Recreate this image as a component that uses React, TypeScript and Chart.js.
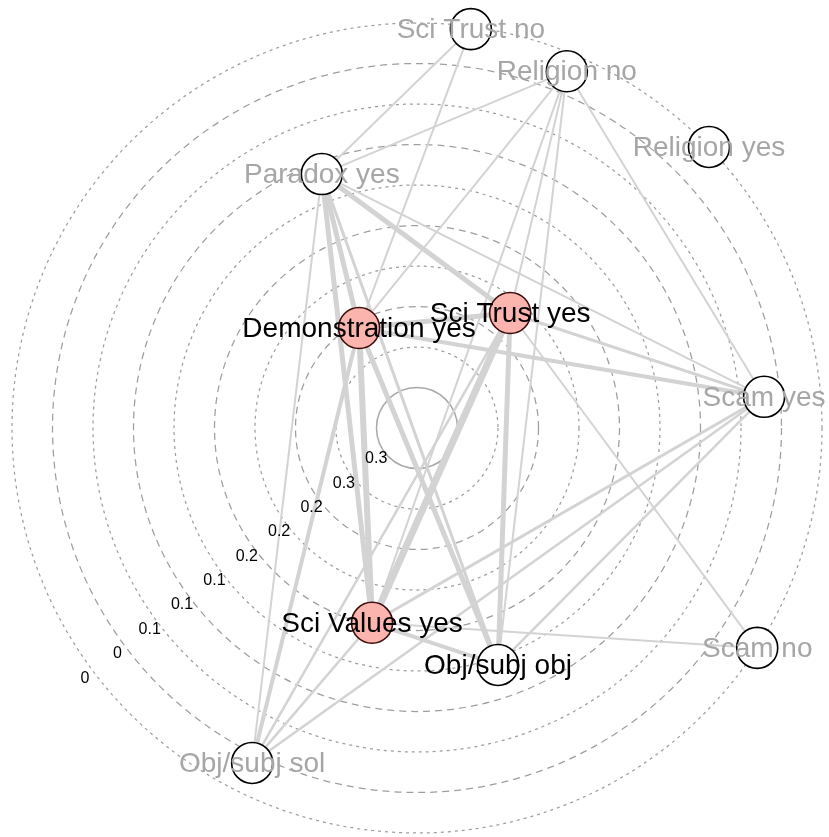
import React, { useEffect, useRef } from 'react';
import { Chart, registerables } from 'chart.js';

Chart.register(...registerables);

// ---- Data ----
const nodeNames = [
  'Sci Trust no',
  'Religion no',
  'Religion yes',
  'Paradox yes',
  'Demonstration yes',
  'Sci Trust yes',
  'Scam yes',
  'Sci Values yes',
  'Obj/subj obj',
  'Scam no',
  'Obj/subj sol',
];
const nodeX = [1.33, 3.70, 7.21, -2.35, -1.43, 2.30, 8.57, -1.11, 2.0, 8.40, -4.07];
const nodeY = [9.85, 8.81, 6.94, 6.27, 2.47, 2.84, 0.77, -4.81, -5.85, -5.43, -8.27];
const nodeHighlighted = [false, false, false, false, true, true, false, true, false, false, false];
const nodeLabelDark = [false, false, false, false, true, true, false, true, true, false, false];

const edgeFrom = [
  'Paradox yes', 'Paradox yes', 'Demonstration yes', 'Demonstration yes', 'Sci Trust yes',
  'Sci Values yes', 'Obj/subj obj', 'Scam yes', 'Paradox yes', 'Paradox yes',
  'Paradox yes', 'Paradox yes', 'Paradox yes', 'Paradox yes', 'Demonstration yes',
  'Demonstration yes', 'Demonstration yes', 'Demonstration yes', 'Demonstration yes', 'Sci Trust yes',
  'Sci Trust yes', 'Sci Trust yes', 'Sci Trust yes', 'Sci Trust yes', 'Sci Values yes',
  'Sci Values yes', 'Sci Values yes', 'Sci Values yes', 'Obj/subj obj', 'Scam yes',
];
const edgeTo = [
  'Sci Trust no', 'Religion no', 'Sci Trust no', 'Religion no', 'Religion no',
  'Religion no', 'Religion no', 'Religion no', 'Demonstration yes', 'Sci Trust yes',
  'Sci Values yes', 'Obj/subj obj', 'Scam yes', 'Obj/subj sol', 'Sci Trust yes',
  'Sci Values yes', 'Obj/subj obj', 'Scam yes', 'Obj/subj sol', 'Sci Values yes',
  'Obj/subj obj', 'Scam yes', 'Scam no', 'Obj/subj sol', 'Obj/subj obj',
  'Scam yes', 'Scam no', 'Obj/subj sol', 'Scam yes', 'Obj/subj sol',
];
const edgeWeight = [
  2, 2, 2, 2, 2,
  2, 2, 2, 5, 5,
  5, 3, 2, 2, 5,
  6, 5, 4, 4, 7,
  5, 3, 2, 2.5, 4,
  3, 2, 2.5, 2.5, 2.5,
];

const ringRadius = [1, 2, 3, 4, 5, 6, 7, 8, 9, 10];
const ringLabels = ['0.3', '0.3', '0.2', '0.2', '0.2', '0.1', '0.1', '0.1', '0', '0'];

// ---- Layout constants (not data) ----
const W = 829;
const H = 837;
const UNIT = 40.5;
const CX = 417;
const CY = 428;
const FONT = '"Liberation Sans", Arial, Helvetica, sans-serif';

const ringsPlugin = {
  id: 'rings',
  beforeDatasetsDraw(chart: any) {
    const { ctx } = chart;
    const xs = chart.scales.x;
    const ys = chart.scales.y;
    const cx = xs.getPixelForValue(0);
    const cy = ys.getPixelForValue(0);
    ctx.save();
    ringRadius.forEach((r, i) => {
      const rp = xs.getPixelForValue(r) - cx;
      ctx.beginPath();
      if (i === 0) {
        ctx.setLineDash([]);
        ctx.strokeStyle = '#a9a9a9';
        ctx.lineWidth = 1.5;
      } else {
        ctx.setLineDash(r % 2 === 0 ? [3, 4] : [7, 5]);
        ctx.strokeStyle = '#9e9e9e';
        ctx.lineWidth = 1.25;
      }
      ctx.arc(cx, cy, rp, 0, Math.PI * 2);
      ctx.stroke();
    });
    ctx.restore();
  },
};

const labelsPlugin = {
  id: 'labels',
  afterDatasetsDraw(chart: any) {
    const { ctx } = chart;
    const xs = chart.scales.x;
    const ys = chart.scales.y;
    ctx.save();
    ctx.textAlign = 'center';
    ctx.textBaseline = 'middle';
    // ring labels
    ctx.font = `16px ${FONT}`;
    ctx.fillStyle = '#000000';
    const dx = -0.799;
    const dy = -0.602;
    ringRadius.forEach((r, i) => {
      const rr = r + 0.26;
      ctx.fillText(ringLabels[i], xs.getPixelForValue(rr * dx), ys.getPixelForValue(rr * dy));
    });
    // node labels
    ctx.font = `28px ${FONT}`;
    nodeNames.forEach((name, i) => {
      ctx.fillStyle = nodeLabelDark[i] ? '#000000' : '#a6a6a6';
      ctx.fillText(name, xs.getPixelForValue(nodeX[i]), ys.getPixelForValue(nodeY[i]) + 1);
    });
    ctx.restore();
  },
};

export default function App() {
  const canvasRef = useRef<HTMLCanvasElement | null>(null);

  useEffect(() => {
    if (!canvasRef.current) return;
    const idx = (n: string) => nodeNames.indexOf(n);
    const edgeDatasets = edgeFrom.map((from, i) => {
      const a = idx(from);
      const b = idx(edgeTo[i]);
      return {
        data: [
          { x: nodeX[a], y: nodeY[a] },
          { x: nodeX[b], y: nodeY[b] },
        ],
        showLine: true,
        borderColor: '#d3d3d3',
        borderWidth: edgeWeight[i],
        pointRadius: 0,
        pointHoverRadius: 0,
        borderCapStyle: 'butt',
        order: 1,
      };
    });
    const nodeDataset = {
      data: nodeNames.map((_, i) => ({ x: nodeX[i], y: nodeY[i] })),
      showLine: false,
      pointRadius: 20.5,
      pointHoverRadius: 20.5,
      pointBackgroundColor: nodeHighlighted.map((h) => (h ? '#FBB4AE' : '#ffffff')),
      pointBorderColor: nodeHighlighted.map((h) => (h ? '#3d0d0d' : '#000000')),
      pointBorderWidth: 1.6,
      pointHoverBorderWidth: 1.6,
      order: 0,
    };

    const chart = new Chart(canvasRef.current, {
      type: 'scatter',
      data: { datasets: [nodeDataset as any, ...(edgeDatasets as any[])] },
      options: {
        responsive: false,
        animation: false,
        events: [],
        layout: { padding: 0, autoPadding: false },
        plugins: {
          legend: { display: false },
          tooltip: { enabled: false },
        },
        scales: {
          x: { type: 'linear', min: -CX / UNIT, max: (W - CX) / UNIT, display: false },
          y: { type: 'linear', min: -(H - CY) / UNIT, max: CY / UNIT, display: false },
        },
      },
      plugins: [ringsPlugin, labelsPlugin],
    });
    return () => chart.destroy();
  }, []);

  return (
    <div style={{ position: 'fixed', left: 0, top: 0, width: W, height: H, background: '#ffffff' }}>
      <canvas ref={canvasRef} width={W} height={H} style={{ display: 'block' }} />
    </div>
  );
}
